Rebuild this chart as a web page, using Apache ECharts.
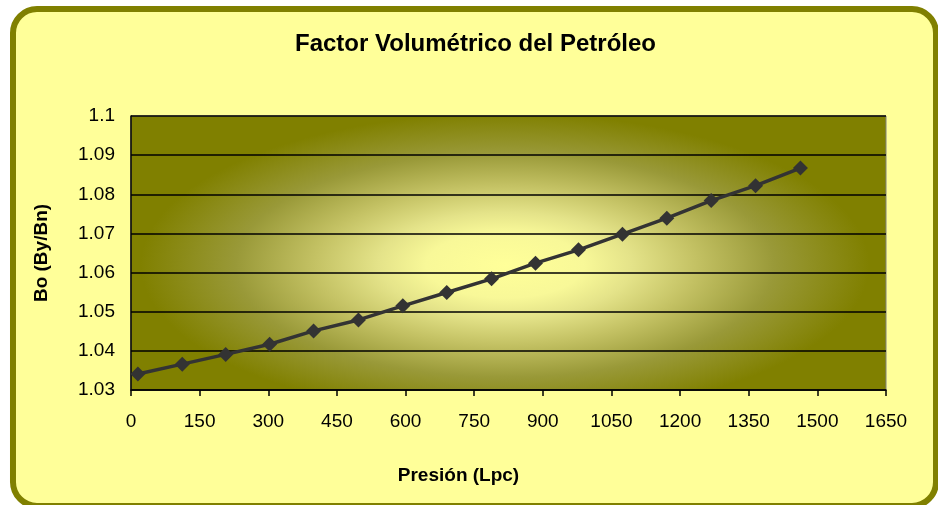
<!DOCTYPE html>
<html>
<head>
<meta charset="utf-8">
<script src="https://cdn.jsdelivr.net/npm/echarts@6/dist/echarts.min.js"></script>
<style>
  html, body { margin: 0; padding: 0; background: #ffffff; }
  #chart { width: 938px; height: 505px; }
</style>
</head>
<body>
<div id="chart"></div>
<script>
// Presión (Lpc) vs. factor volumétrico Bo (By/Bn)
const pressure = [15, 112, 207, 303, 399, 497, 594, 690, 788, 884, 978, 1074, 1171, 1268, 1365, 1463];
const bo = [1.0341, 1.0366, 1.0391, 1.0417, 1.0451, 1.0479, 1.0515, 1.0549, 1.0584, 1.0624,
            1.0658, 1.0698, 1.0739, 1.0784, 1.0822, 1.0867];

const titleText = 'Factor Volumétrico del Petróleo';
const xName = 'Presión (Lpc)';
const yName = 'Bo (By/Bn)';

const FONT = '"Liberation Sans", Arial, sans-serif';
const W = 938, H = 505;
const grid = { left: 131, top: 116, right: 52, bottom: 115 };
const gw = W - grid.left - grid.right;
const gh = H - grid.top - grid.bottom;

// plot fill: gradient from a bright centre to olive edges, stretched horizontally
const ASPECT = 2.4;
const glowX = 505, glowY = 265;
const plotFill = new echarts.graphic.RadialGradient(
  (glowX - grid.left) / ASPECT, glowY - grid.top, 165,
  [
    { offset: 0, color: '#FFFF99' },
    { offset: 0.2, color: '#F8F898' },
    { offset: 0.32, color: '#E4E389' },
    { offset: 0.48, color: '#C4C264' },
    { offset: 0.68, color: '#999938' },
    { offset: 0.92, color: '#808000' },
    { offset: 1, color: '#808000' }
  ],
  true
);

const chart = echarts.init(document.getElementById('chart'), null, { renderer: 'canvas' });

chart.setOption({
  animation: false,
  graphic: [
    // rounded chart-area frame
    {
      type: 'rect', z: -10,
      shape: { x: 13, y: 9, width: 923, height: 497, r: 24 },
      style: { fill: '#FFFF99', stroke: '#808000', lineWidth: 6 }
    },
    {
      type: 'rect', z: -9,
      x: grid.left, y: grid.top,
      scaleX: ASPECT,
      shape: { x: 0, y: 0, width: gw / ASPECT, height: gh },
      style: { fill: plotFill }
    }
  ],
  title: {
    text: titleText,
    left: 290, top: 27,
    textStyle: { fontFamily: FONT, fontSize: 24, fontWeight: 'bold', color: '#000' }
  },
  grid: {
    left: grid.left, top: grid.top, right: grid.right, bottom: grid.bottom,
    show: true, backgroundColor: 'transparent', borderColor: '#808080', borderWidth: 1
  },
  xAxis: {
    type: 'value', min: 0, max: 1650, interval: 150,
    name: xName, nameLocation: 'middle', nameGap: 76,
    nameTextStyle: { fontFamily: FONT, fontSize: 19, fontWeight: 'bold', color: '#000', padding: [0, 100, 0, 0] },
    axisLine: { show: true, lineStyle: { color: '#000', width: 1.5 } },
    axisTick: { show: true, length: 6, inside: false, lineStyle: { color: '#000', width: 1.5 } },
    axisLabel: { fontFamily: FONT, fontSize: 19, color: '#000', margin: 22, formatter: v => String(v) },
    splitLine: { show: false }
  },
  yAxis: {
    type: 'value', min: 1.03, max: 1.1, interval: 0.01,
    name: yName, nameLocation: 'middle', nameGap: 80,
    nameTextStyle: { fontFamily: FONT, fontSize: 19, fontWeight: 'bold', color: '#000' },
    axisLine: { show: true, lineStyle: { color: '#000', width: 1.5 } },
    axisTick: { show: false },
    axisLabel: { fontFamily: FONT, fontSize: 19, color: '#000', margin: 16 },
    splitLine: { show: true, lineStyle: { color: '#000', width: 1.5 } }
  },
  series: [{
    type: 'line',
    data: pressure.map((p, i) => [p, bo[i]]),
    symbol: 'diamond', symbolSize: 15,
    lineStyle: { color: '#333333', width: 3.5 },
    itemStyle: { color: '#333333' }
  }]
});
</script>
</body>
</html>
